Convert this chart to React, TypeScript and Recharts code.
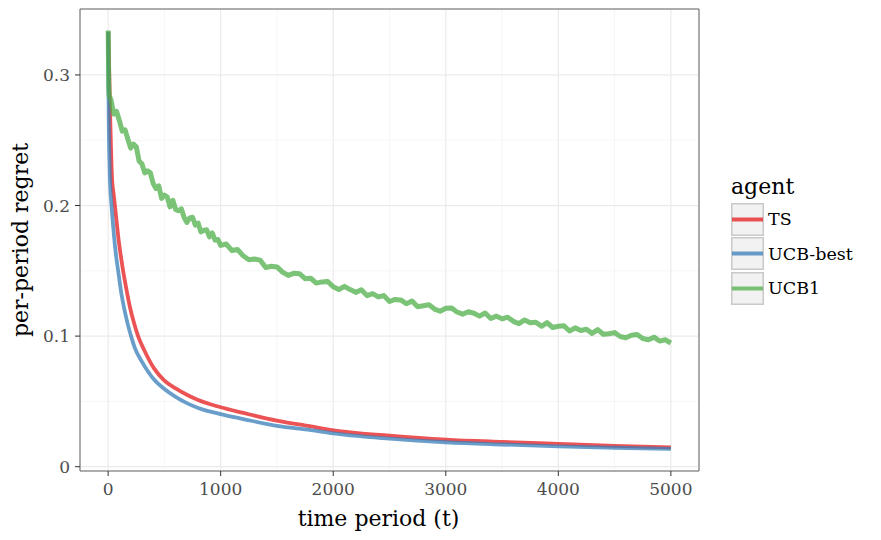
import { CartesianGrid, Line, LineChart, ReferenceArea, XAxis, YAxis } from 'recharts';

const agents = ['TS', 'UCB-best', 'UCB1'];
const agentColors = ['#e41a1c', '#377eb8', '#4daf4a'];

// TS: smooth curve, read densely around the knee
const tsTime = [
  1, 5, 10, 15, 20, 35, 50, 60, 75, 90, 110, 133, 160, 193, 230, 266, 320, 408, 500, 600,
  704, 800, 1000, 1200, 1500, 1800, 2000, 2500, 3000, 3500, 4000, 4500, 5000,
];
const tsRegret = [
  0.333, 0.318, 0.3, 0.28, 0.262, 0.22, 0.208, 0.2, 0.188, 0.176, 0.163, 0.15, 0.137, 0.1225, 0.11, 0.1, 0.0894, 0.0753, 0.066, 0.06,
  0.0549, 0.051, 0.0455, 0.0412, 0.0352, 0.0308, 0.0278, 0.0238, 0.0208, 0.019, 0.0175, 0.016, 0.0148,
];

const ucbBestTime = [
  1, 3, 6, 10, 15, 20, 30, 40, 53, 70, 89, 115, 148, 175, 207, 237, 300, 408, 500, 600,
  704, 800, 1000, 1200, 1500, 1800, 2000, 2500, 3000, 3500, 4000, 4500, 5000,
];
const ucbBestRegret = [
  0.333, 0.29, 0.26, 0.24, 0.222, 0.212, 0.2, 0.189, 0.176, 0.162, 0.15, 0.134, 0.119, 0.109, 0.099, 0.091, 0.0805, 0.0668, 0.0595, 0.0535,
  0.0485, 0.045, 0.0403, 0.0365, 0.0312, 0.028, 0.0255, 0.0215, 0.0187, 0.017, 0.0156, 0.0145, 0.0136,
];

// UCB1 is noisy, so it is read at a finer step
const ucb1Time = [
  1, 3, 6, 10, 25, 50, 75, 100, 125, 150, 175, 200, 225, 250, 275, 300, 325, 350, 375, 400,
  425, 450, 475, 500, 525, 550, 575, 600, 625, 650, 675, 700, 725, 750, 775, 800, 825, 850, 875, 900,
  925, 950, 975, 1000, 1050, 1100, 1150, 1200, 1250, 1300, 1350, 1400, 1450, 1500, 1550, 1600, 1650, 1700, 1750, 1800,
  1850, 1900, 1950, 2000, 2050, 2100, 2150, 2200, 2250, 2300, 2350, 2400, 2450, 2500, 2550, 2600, 2650, 2700, 2750, 2800,
  2850, 2900, 2950, 3000, 3050, 3100, 3150, 3200, 3250, 3300, 3350, 3400, 3450, 3500, 3550, 3600, 3650, 3700, 3750, 3800,
  3850, 3900, 3950, 4000, 4050, 4100, 4150, 4200, 4250, 4300, 4350, 4400, 4450, 4500, 4550, 4600, 4650, 4700, 4750, 4800,
  4850, 4900, 4950, 5000,
];
const ucb1Regret = [
  0.334, 0.312, 0.29, 0.284, 0.281, 0.27, 0.272, 0.265, 0.257, 0.258, 0.251, 0.244, 0.247, 0.245, 0.234, 0.232, 0.225, 0.2265, 0.225, 0.217,
  0.213, 0.215, 0.2055, 0.208, 0.2065, 0.199, 0.204, 0.197, 0.196, 0.1975, 0.1908, 0.187, 0.1905, 0.191, 0.185, 0.1865, 0.1798, 0.181, 0.1815, 0.176,
  0.179, 0.1735, 0.174, 0.1695, 0.1705, 0.1655, 0.1663, 0.1615, 0.1585, 0.159, 0.1582, 0.1525, 0.1535, 0.153, 0.149, 0.1465, 0.1481, 0.1478, 0.144, 0.1443,
  0.1406, 0.1415, 0.1419, 0.1378, 0.1357, 0.1381, 0.1356, 0.1335, 0.1355, 0.131, 0.1325, 0.13, 0.131, 0.1265, 0.1281, 0.1277, 0.1248, 0.1269, 0.1225, 0.1232,
  0.124, 0.1207, 0.119, 0.1213, 0.1216, 0.1185, 0.1168, 0.1187, 0.1175, 0.1153, 0.1177, 0.1135, 0.1153, 0.1132, 0.1145, 0.1113, 0.1096, 0.1124, 0.1103, 0.1106,
  0.1075, 0.1103, 0.1066, 0.1075, 0.1079, 0.1039, 0.1063, 0.1043, 0.1052, 0.1021, 0.105, 0.1014, 0.1018, 0.1027, 0.0997, 0.0987, 0.1007, 0.1012, 0.0982, 0.0972,
  0.0992, 0.0962, 0.0972, 0.0947,
];

const xTicks = [0, 1000, 2000, 3000, 4000, 5000];
const xMinorTicks = [500, 1500, 2500, 3500, 4500];
const yTicks = [0, 0.1, 0.2, 0.3];
const yMinorTicks = [0.05, 0.15, 0.25];

const xDomain: [number, number] = [-250, 5250];
const yDomain: [number, number] = [-0.0033, 0.3505];

const font = '"DejaVu Serif", serif';

const tsData = tsTime.map((t, i) => ({ t, v: tsRegret[i] }));
const ucbBestData = ucbBestTime.map((t, i) => ({ t, v: ucbBestRegret[i] }));
const ucb1Data = ucb1Time.map((t, i) => ({ t, v: ucb1Regret[i] }));
const seriesData = [tsData, ucbBestData, ucb1Data];

function XTitle({ viewBox }: any) {
  const cx = viewBox.x + viewBox.width / 2 - 11;
  return (
    <text x={cx} y={526} textAnchor="middle" fontSize={22} fontFamily={font} fill="#000">
      time period (t)
    </text>
  );
}

function YTitle({ viewBox }: any) {
  const cx = viewBox.x + 18;
  const cy = 240;
  return (
    <text x={cx} y={cy} transform={`rotate(-90 ${cx} ${cy})`} textAnchor="middle" fontSize={22} fontFamily={font} fill="#000">
      per-period regret
    </text>
  );
}

function AgentLegend() {
  return (
    <div style={{ position: 'absolute', left: 731, top: 172, fontFamily: font }}>
      <div style={{ fontSize: 22, lineHeight: '30px', color: '#000' }}>agent</div>
      {agents.map((name, i) => (
        <div key={name} style={{ display: 'flex', alignItems: 'center', height: 34.5 }}>
          <svg width={33} height={33} style={{ display: 'block' }}>
            <rect x={0.75} y={0.75} width={31.5} height={31.5} fill="#f2f2f2" stroke="#c9c9c9" strokeWidth={1.5} />
            <line x1={1} x2={32} y1={16.5} y2={16.5} stroke={agentColors[i]} strokeOpacity={0.75} strokeWidth={4} />
          </svg>
          <span style={{ fontSize: 17.5, color: '#000', marginLeft: 4 }}>{name}</span>
        </div>
      ))}
    </div>
  );
}

export default function App() {
  return (
    <div style={{ position: 'relative', width: 881, height: 540, background: '#fff' }}>
      <style>{'body{margin:0}'}</style>
      <LineChart width={881} height={540} margin={{ top: 9, right: 182, bottom: 0, left: 10 }}>
        <XAxis xAxisId="minor" dataKey="t" type="number" domain={xDomain} allowDataOverflow ticks={xMinorTicks} hide />
        <YAxis yAxisId="minor" type="number" domain={yDomain} allowDataOverflow ticks={yMinorTicks} hide />
        <CartesianGrid xAxisId="minor" yAxisId="minor" stroke="#f4f4f4" strokeWidth={0.8} />
        <CartesianGrid stroke="#ebebeb" strokeWidth={1.2} />
        <XAxis
          dataKey="t"
          type="number"
          domain={xDomain}
          allowDataOverflow
          ticks={xTicks}
          height={69}
          axisLine={false}
          tickSize={5}
          tickMargin={7}
          tickLine={{ stroke: '#333' }}
          tick={{ fill: '#4d4d4d', fontSize: 17, fontFamily: font }}
          label={<XTitle />}
        />
        <YAxis
          type="number"
          domain={yDomain}
          allowDataOverflow
          ticks={yTicks}
          width={70}
          axisLine={false}
          tickSize={5}
          tickMargin={5}
          tickLine={{ stroke: '#333' }}
          tick={{ fill: '#4d4d4d', fontSize: 17, fontFamily: font }}
          label={<YTitle />}
        />
        {agents.map((name, i) => (
          <Line
            key={name}
            data={seriesData[i]}
            dataKey="v"
            name={name}
            type={i < 2 ? 'monotone' : 'linear'}
            stroke={agentColors[i]}
            strokeOpacity={0.75}
            strokeWidth={i < 2 ? 3.8 : 5}
            strokeLinejoin="round"
            dot={false}
            activeDot={false}
            isAnimationActive={false}
          />
        ))}
        <ReferenceArea x1={xDomain[0]} x2={xDomain[1]} y1={yDomain[0]} y2={yDomain[1]} fill="none" stroke="#666" strokeWidth={1} ifOverflow="visible" />
      </LineChart>
      <AgentLegend />
    </div>
  );
}
